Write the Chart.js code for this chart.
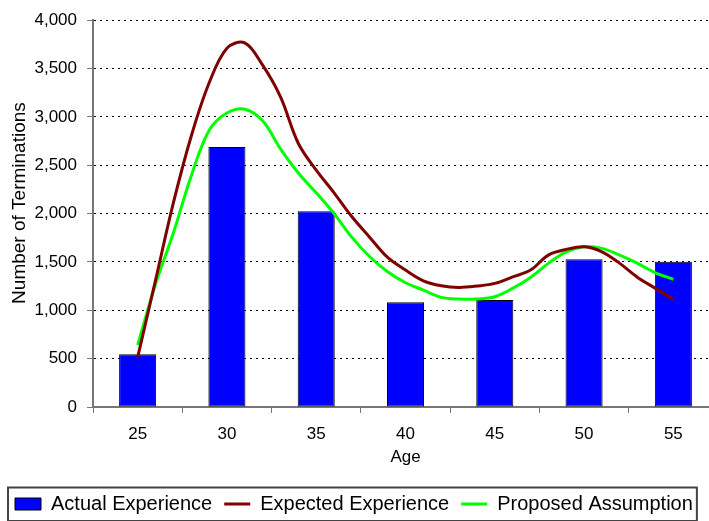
<!DOCTYPE html>
<html>
<head>
<meta charset="utf-8">
<script src="https://cdn.jsdelivr.net/npm/chart.js@4/dist/chart.umd.min.js"></script>
<style>
  html, body { margin: 0; padding: 0; background: #fff; overflow: hidden; }
  #wrap { position: absolute; left: 0; top: 0; width: 720px; height: 524px; }
  #chart { display: block; }
</style>
</head>
<body>
<div id="wrap"><canvas id="chart" width="720" height="524"></canvas></div>
<script>
// Age groups for the bars
const ageGroups = [25, 30, 35, 40, 45, 50, 55];
// Observed terminations per age group
const actualExperience = [545, 2690, 2025, 1082, 1106, 1527, 1502];

// Single-year ages for the curves
const curveAges = [25, 26, 27, 28, 29, 30, 31, 32, 33, 34, 35, 36, 37, 38, 39, 40,
                   41, 42, 43, 44, 45, 46, 47, 48, 49, 50, 51, 52, 53, 54, 55];
const expectedExperience = [513, 1310, 2110, 2800, 3350, 3710, 3765, 3535, 3207, 2725, 2450,
                            2215, 1967, 1754, 1547, 1416, 1305, 1254, 1237, 1251, 1278,
                            1345, 1416, 1571, 1630, 1657, 1605, 1485, 1340, 1227, 1113];
const proposedAssumption = [641, 1270, 1800, 2390, 2860, 3040, 3080, 2960, 2670, 2420, 2215,
                            2000, 1754, 1554, 1399, 1285, 1209, 1134, 1116, 1116, 1140,
                            1227, 1340, 1485, 1605, 1657, 1640, 1571, 1485, 1388, 1320];

// Axis ranges: ages span half a group either side, terminations in steps of 500
const ageAxis = { min: 22.5, max: 57.5, step: 2.5, group: 5 };
const yTicks = { min: 0, max: 4000, step: 500 };

const FONT = "'Liberation Sans', Arial, sans-serif";
const AXIS_GREY = '#777';
const CLEAR = 'rgba(0,0,0,0)';

const toPoints = (xs, ys) => xs.map((x, i) => ({ x: x, y: ys[i] }));
const isGroupCentre = v => Math.abs(v % ageAxis.group) < 1e-6;

// Frame drawn around the legend row
const legendFrame = {
  id: 'legendFrame',
  afterDraw(chart) {
    const boxes = chart.legend && chart.legend.legendHitBoxes;
    if (!boxes || !boxes.length) return;
    const first = boxes[0];
    const last = boxes[boxes.length - 1];
    const left = first.left - 7;
    const right = last.left + last.width + 4;
    const cy = first.top + first.height / 2;
    const ctx = chart.ctx;
    ctx.save();
    ctx.strokeStyle = '#444';
    ctx.lineWidth = 2;
    ctx.strokeRect(left, cy - 16.5, right - left, 33.5);
    ctx.restore();
  }
};

new Chart(document.getElementById('chart'), {
  type: 'bar',
  data: {
    datasets: [
      {
        type: 'bar',
        label: 'Actual Experience',
        data: toPoints(ageGroups, actualExperience),
        backgroundColor: '#0000FF',
        borderColor: '#000',
        borderWidth: 1,
        borderSkipped: false,
        barPercentage: 0.83,
        categoryPercentage: 1,
        order: 1
      },
      {
        type: 'line',
        label: 'Expected Experience',
        data: toPoints(curveAges, expectedExperience),
        borderColor: '#800000',
        backgroundColor: '#800000',
        borderWidth: 3,
        pointRadius: 0,
        tension: 0.35,
        fill: false,
        order: 0
      },
      {
        type: 'line',
        label: 'Proposed Assumption',
        data: toPoints(curveAges, proposedAssumption),
        borderColor: '#00FF00',
        backgroundColor: '#00FF00',
        borderWidth: 3,
        pointRadius: 0,
        tension: 0.35,
        fill: false,
        order: 0
      }
    ]
  },
  options: {
    responsive: false,
    animation: false,
    devicePixelRatio: 1,
    layout: { padding: { left: 3, right: 2, top: 20, bottom: 0 } },
    plugins: {
      tooltip: { enabled: false },
      legend: {
        position: 'bottom',
        align: 'start',
        labels: {
          usePointStyle: true,
          pointStyleWidth: 26,
          boxHeight: 12,
          padding: 12,
          color: '#000',
          font: { family: FONT, size: 20 },
          sort: (a, b) => a.datasetIndex - b.datasetIndex,
          generateLabels(chart) {
            const items = Chart.defaults.plugins.legend.labels.generateLabels(chart);
            return items.map(item => {
              const ds = chart.data.datasets[item.datasetIndex];
              if (ds.type === 'line') {
                item.pointStyle = 'line';
                item.lineWidth = 3;
              } else {
                item.pointStyle = 'rect';
                item.lineWidth = 1;
                item.strokeStyle = '#000';
              }
              return item;
            });
          }
        }
      }
    },
    scales: {
      x: {
        type: 'linear',
        position: 'bottom',
        min: ageAxis.min,
        max: ageAxis.max,
        offset: false,
        grid: {
          offset: false,
          drawOnChartArea: false,
          drawTicks: true,
          tickLength: 6,
          tickColor: ctx => (ctx.tick && isGroupCentre(ctx.tick.value) ? CLEAR : AXIS_GREY),
          tickWidth: 1
        },
        border: { display: true, color: AXIS_GREY, width: 2 },
        ticks: {
          stepSize: ageAxis.step,
          autoSkip: false,
          maxRotation: 0,
          color: '#000',
          font: { family: FONT, size: 17 },
          padding: 11,
          callback: v => (isGroupCentre(v) ? String(v) : '')
        },
        title: {
          display: true,
          text: 'Age',
          color: '#000',
          font: { family: FONT, size: 17 },
          padding: { top: 0, bottom: 14 }
        },
        afterFit(scale) {
          scale.height = 75;
          // the end ticks carry no label, so no side room is needed
          scale.paddingLeft = 0;
          scale.paddingRight = 0;
        }
      },
      y: {
        type: 'linear',
        min: yTicks.min,
        max: yTicks.max,
        grid: {
          color: ctx => (ctx.tick && ctx.tick.value === 0 ? CLEAR : '#000'),
          lineWidth: 1,
          drawTicks: true,
          tickLength: 6,
          tickColor: AXIS_GREY,
          tickWidth: 1,
          tickBorderDash: []
        },
        border: { display: true, color: AXIS_GREY, width: 2, dash: [2, 4] },
        ticks: {
          stepSize: yTicks.step,
          color: '#000',
          padding: 10,
          font: { family: FONT, size: 17 },
          callback: v => Number(v).toLocaleString('en-US')
        },
        title: {
          display: true,
          // leading spaces lift the rotated title a little above the axis midpoint
          text: '    Number of Terminations',
          color: '#000',
          font: { family: FONT, size: 19 },
          padding: { top: 5, bottom: 0 }
        },
        afterFit(scale) { scale.width = 90; }
      }
    }
  },
  plugins: [legendFrame]
});
</script>
</body>
</html>
